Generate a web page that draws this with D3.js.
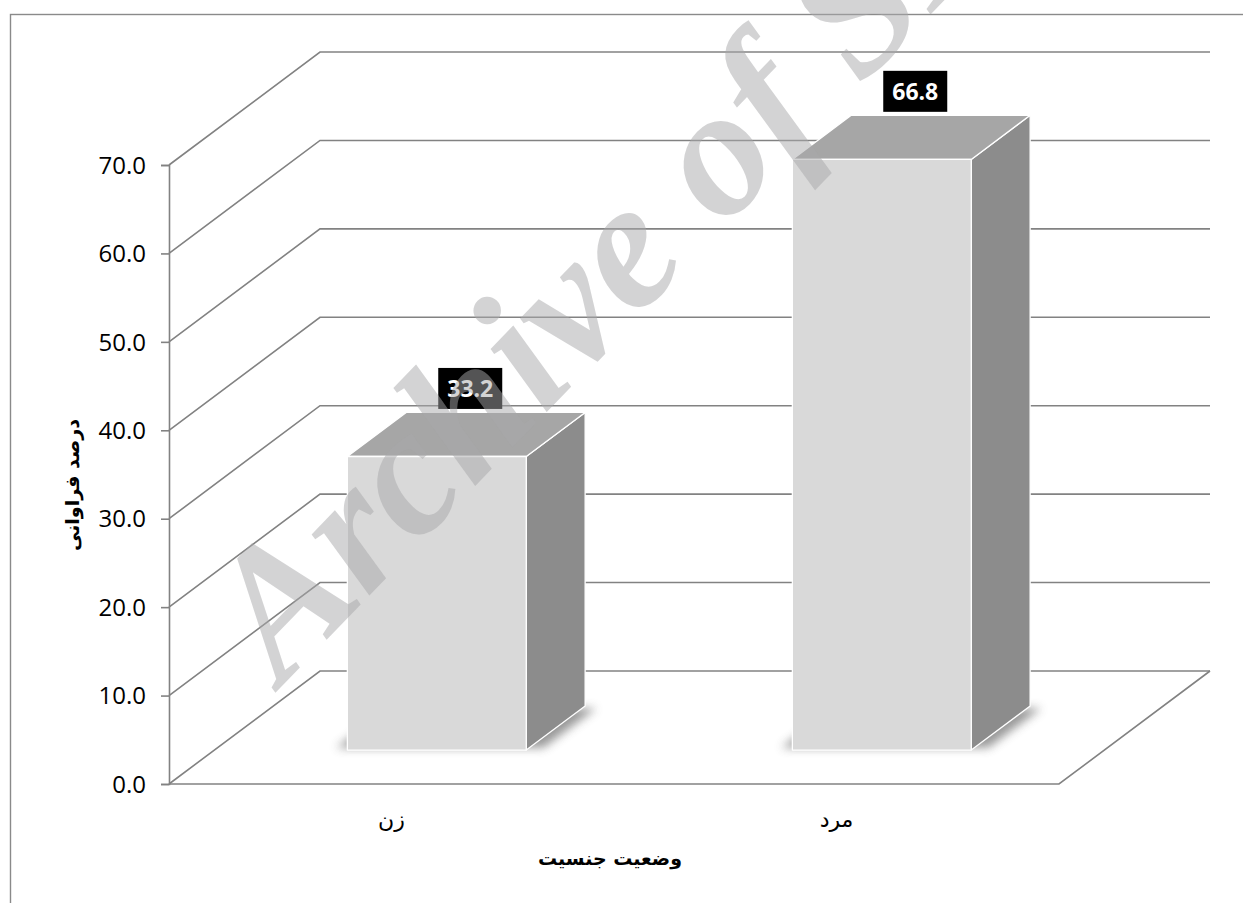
<!DOCTYPE html>
<html>
<head>
<meta charset="utf-8">
<script src="https://cdn.jsdelivr.net/npm/d3@7"></script>
<style>
  html, body { margin: 0; padding: 0; background: #fff; }
  svg { display: block; }
</style>
</head>
<body>
<svg id="chart" width="1243" height="903"></svg>
<script>
// ---- data ----
const categories = ["زن", "مرد"];
const values = [33.2, 66.8];
const yTicks = [0, 10, 20, 30, 40, 50, 60, 70];
const xTitle = "وضعیت جنسیت";
const yTitle = "درصد فراوانی";
const watermark = "Archive of SID";

// ---- layout ----
const X0 = 169, X1 = 1059, Y0 = 784, Y1 = 165;
const DX = 151, DY = 113;          // depth offset of the back wall
const Z0 = 0.30, Z1 = 0.69;        // bar depth range (fraction of wall depth)
const BAR_FRAC = 0.402;
const gridColor = "#828282";

const svg = d3.select("#chart");

const x = d3.scaleBand().domain(categories).range([X0, X1]).padding(0);
const y = d3.scaleLinear().domain([0, 70]).range([Y0, Y1]);

// projection: front x, value, depth fraction -> screen
const P = (px, v, z) => [px + z * DX, y(v) - z * DY];

const defs = svg.append("defs");
defs.append("filter").attr("id", "blur").attr("x", "-20%").attr("y", "-50%")
  .attr("width", "140%").attr("height", "200%")
  .append("feGaussianBlur").attr("stdDeviation", 5);

// chart border
svg.append("rect").attr("x", 10.5).attr("y", 14.5).attr("width", 1240).attr("height", 900)
  .attr("fill", "none").attr("stroke", "#8a8a8a").attr("stroke-width", 1.4);

const grid = svg.append("g").attr("fill", "none").attr("stroke", gridColor).attr("stroke-width", 1.6);

// back wall + left wall gridlines
yTicks.forEach(t => {
  const a = P(X0, t, 0), b = P(X0, t, 1), c = P(X1, t, 1);
  grid.append("path").attr("d", `M${a[0]},${a[1]}L${b[0]},${b[1]}L${c[0]},${c[1]}`);
});

// floor front / right edges
{
  const a = P(X0, 0, 0), b = P(X1, 0, 0), c = P(X1, 0, 1);
  grid.append("path").attr("d", `M${a[0]},${a[1]}L${b[0]},${b[1]}L${c[0]},${c[1]}`);
}

// y axis
const yAxis = d3.axisLeft(y).tickValues(yTicks).tickFormat(d3.format(".1f"))
  .tickSize(8).tickPadding(15);
const gy = svg.append("g").attr("transform", `translate(${X0},0)`).call(yAxis);
gy.select(".domain").attr("stroke", gridColor).attr("stroke-width", 1.6);
gy.selectAll(".tick line").attr("stroke", gridColor).attr("stroke-width", 1.6);
gy.selectAll(".tick text").attr("font-family", "'Open Sans', sans-serif")
  .attr("font-size", 24).attr("fill", "#000").attr("dy", "0.34em");

// x category labels
svg.append("g").selectAll("text").data(categories).join("text")
  .attr("x", d => x(d) + x.bandwidth() / 2)
  .attr("y", 827)
  .attr("text-anchor", "middle")
  .attr("font-family", "'DejaVu Sans', sans-serif")
  .attr("font-size", 22)
  .attr("fill", "#000")
  .text(d => d);

// axis titles
svg.append("text").attr("x", (X0 + X1) / 2 - 4).attr("y", 865).attr("text-anchor", "middle")
  .attr("font-family", "'DejaVu Sans', sans-serif").attr("font-weight", "bold")
  .attr("font-size", 19).attr("fill", "#000").text(xTitle);

svg.append("text").attr("transform", "translate(79,485) rotate(-90)").attr("text-anchor", "middle")
  .attr("font-family", "'DejaVu Sans', sans-serif").attr("font-weight", "bold")
  .attr("font-size", 19).attr("fill", "#000").text(yTitle);

// bars
const bars = svg.append("g");
const poly = pts => "M" + pts.map(p => p.join(",")).join("L") + "Z";

categories.forEach((cat, i) => {
  const v = values[i];
  const c = x(cat) + x.bandwidth() / 2;
  const w = x.bandwidth() * BAR_FRAC;
  const l = c - w / 2, r = c + w / 2;
  const g = bars.append("g");

  // soft shadow on the floor
  g.append("path")
    .attr("d", poly([P(l - 14, 0, Z0 + 0.02), P(r + 14, 0, Z0 + 0.02), P(r + 14, 0, Z1 - 0.02), P(l - 14, 0, Z1 - 0.02)]))
    .attr("fill", "#555").attr("opacity", 0.6).attr("filter", "url(#blur)");

  const face = (pts, fill) => g.append("path").attr("d", poly(pts))
    .attr("fill", fill).attr("stroke", "#fff").attr("stroke-width", 1.3).attr("stroke-linejoin", "round");

  // right side
  face([P(r, 0, Z0), P(r, 0, Z1), P(r, v, Z1), P(r, v, Z0)], "#8c8c8c");
  // top
  face([P(l, v, Z0), P(r, v, Z0), P(r, v, Z1), P(l, v, Z1)], "#a6a6a6");
  // front
  face([P(l, 0, Z0), P(r, 0, Z0), P(r, v, Z0), P(l, v, Z0)], "#d9d9d9");

  // data label
  const lx = P(c, v, (Z0 + Z1) / 2)[0] + 4;
  const ly = P(c, v, Z1)[1] - 24;
  g.append("rect").attr("x", lx - 32).attr("y", ly - 20.5).attr("width", 64).attr("height", 41)
    .attr("fill", "#000");
  g.append("text").attr("x", lx).attr("y", ly).attr("dy", "0.36em").attr("text-anchor", "middle")
    .attr("font-family", "'Open Sans', sans-serif").attr("font-weight", "bold")
    .attr("font-size", 23).attr("fill", "#fff").text(d3.format(".1f")(v));
});

// watermark
svg.append("text")
  .attr("transform", "translate(282,686) rotate(-46)")
  .attr("font-family", "'Liberation Serif', serif")
  .attr("font-style", "italic").attr("font-weight", "bold")
  .attr("font-size", 183)
  .attr("fill", "#a7a7a9").attr("fill-opacity", 0.5)
  .text(watermark);
</script>
</body>
</html>
